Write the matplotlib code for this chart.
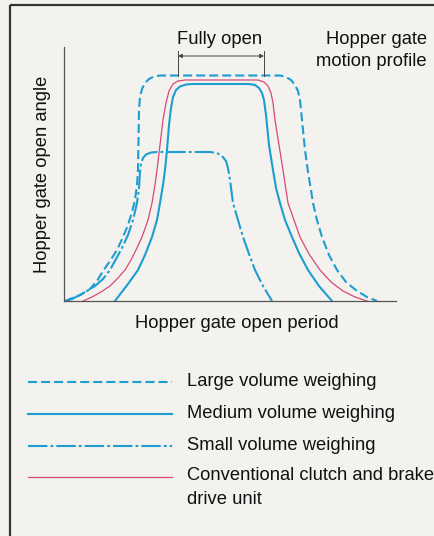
import matplotlib
matplotlib.use("Agg")
import matplotlib.pyplot as plt
from matplotlib.patches import Rectangle

plt.rcParams['font.family'] = ['Liberation Sans', 'DejaVu Sans']
plt.rcParams['lines.scale_dashes'] = False

# ---- data (arbitrary units: time 0-332, open angle 0-254) ----
large_x = [1, 6, 16, 26, 33, 39, 46, 53, 59, 64, 68, 71, 73, 74, 74.5, 75, 76, 78, 81, 85, 90, 96,
           216, 222, 227, 231, 234, 236, 238, 241, 244, 247, 249, 253, 258, 265, 273, 282, 293, 303, 313]
large_y = [0, 2, 6, 12, 20, 30, 40, 51, 64, 76, 89, 101, 116, 131, 161, 191, 204, 212, 218, 222, 224.5, 225.5,
           225.5, 224, 221, 216, 210, 201, 181, 151, 129, 111, 98, 81, 64, 46, 31, 19, 10, 4, 0]

medium_x = [51, 57, 64, 74, 81, 88, 93, 96, 99, 101, 103, 105, 107, 109, 112, 116, 122, 128,
            185, 191, 195, 198, 200, 202, 205, 209, 212, 216, 221, 228, 235, 244, 255, 268]
medium_y = [0, 8, 17, 31, 46, 64, 81, 98, 116, 131, 151, 176, 193, 204, 211, 214.5, 216.5, 217,
            217, 216, 213, 208, 201, 186, 156, 131, 113, 98, 81, 64, 48, 31, 15, 0]

small_x = [2, 8, 18, 31, 39, 46, 52, 58, 64, 69, 73, 75, 76, 77, 79, 82, 87, 93,
           146, 153, 158, 162, 164, 166, 169, 174, 179, 185, 191, 199, 208]
small_y = [0, 2, 7, 15, 22, 31, 42, 53, 66, 81, 98, 113, 129, 137, 143, 146.5, 148.5, 149,
           149, 148, 145, 140, 133, 121, 98, 81, 64, 47, 31, 15, 0]

conv_x = [19, 28, 37, 46, 54, 61, 67, 72, 78, 84, 88, 91, 93, 96, 99, 102, 105, 109, 114, 121,
          194, 200, 204, 207, 209, 211, 215, 219, 222, 224, 230, 236, 245, 256, 267, 279, 291, 303]
conv_y = [0, 4, 9, 15, 23, 31, 41, 51, 64, 81, 98, 116, 131, 156, 181, 198, 210, 217, 220, 221,
          221, 219, 215, 208, 198, 181, 156, 131, 111, 98, 81, 64, 47, 31, 19, 10, 4, 0]

fully_open = [114, 200]   # time span of the "Fully open" marker

labels = ["Large volume weighing", "Medium volume weighing",
          "Small volume weighing", "Conventional clutch and brake\ndrive unit"]

# ---- styles ----
W, H = 435, 536
BG = '#f3f2ee'
CYAN = '#1d9dd0'
RED = '#d64a78'
TXT = '#111111'
dash_large = (0, (6.5, 2.9))
dash_small = (0, (14.0, 2.2, 2.0, 2.2))

fig = plt.figure(figsize=(W / 100, H / 100), dpi=100, facecolor=BG)

# overlay in pixel coordinates for frame, text, legend
ov = fig.add_axes([0, 0, 1, 1])
ov.set_xlim(0, W)
ov.set_ylim(H, 0)
ov.axis('off')
ov.set_facecolor('none')
ov.add_patch(Rectangle((10, 5), W + 20, H + 20, fill=False, ec='#333333', lw=1.6))

ax = fig.add_axes([64 / W, (H - 301) / H, 332 / W, 254 / H])
ax.set_facecolor('none')
ax.set_xlim(0, 332)
ax.set_ylim(0, 254)
for s in ['top', 'right']:
    ax.spines[s].set_visible(False)
for s in ['left', 'bottom']:
    ax.spines[s].set_color('#555555')
    ax.spines[s].set_linewidth(0.9)
ax.set_xticks([])
ax.set_yticks([])

ax.plot(large_x, large_y, color=CYAN, lw=1.5, linestyle=dash_large, clip_on=False)
ax.plot(medium_x, medium_y, color=CYAN, lw=1.5, clip_on=False)
ax.plot(small_x, small_y, color=CYAN, lw=1.5, linestyle=dash_small, clip_on=False)
ax.plot(conv_x, conv_y, color=RED, lw=0.9, clip_on=False)

# Fully open marker
top = max(large_y)
for xv in fully_open:
    ax.plot([xv, xv], [top, 250], color='#444444', lw=0.7, clip_on=False)
ax.annotate('', xy=(fully_open[0], 245), xytext=(fully_open[1], 245),
            arrowprops=dict(arrowstyle='<|-|>', color='#444444', lw=0.7,
                            mutation_scale=6, shrinkA=0, shrinkB=0),
            annotation_clip=False)

fs = 13.2
ov.text(220, 40, 'Fully open', ha='center', va='center', fontsize=fs, color=TXT)
ov.text(427, 40, 'Hopper gate', ha='right', va='center', fontsize=fs, color=TXT)
ov.text(427, 62, 'motion profile', ha='right', va='center', fontsize=fs, color=TXT)
ov.text(43, 174, 'Hopper gate open angle', ha='center', va='center', rotation=90,
        fontsize=fs, color=TXT)
ov.text(237, 323, 'Hopper gate open period', ha='center', va='center', fontsize=fs,
        color=TXT)

# legend
rows = [382, 414, 446, 477]
styles = [dict(color=CYAN, lw=1.5, linestyle=dash_large),
          dict(color=CYAN, lw=1.5),
          dict(color=CYAN, lw=1.5, linestyle=dash_small),
          dict(color=RED, lw=0.9)]
for yv, st, lab in zip(rows, styles, labels):
    ov.plot([28, 172], [yv, yv], **st)
    if '\n' in lab:
        ov.text(187, yv - 10, lab, ha='left', va='top', fontsize=fs, color=TXT,
                linespacing=1.55)
    else:
        ov.text(187, yv, lab, ha='left', va='center', fontsize=fs, color=TXT)

fig.savefig('out.png', dpi=100, facecolor=BG)
